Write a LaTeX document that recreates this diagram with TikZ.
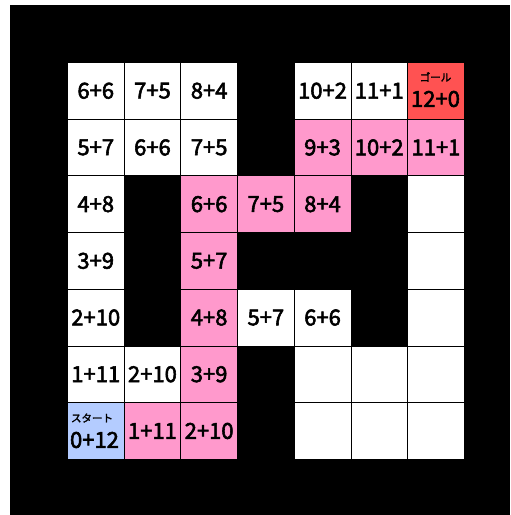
\documentclass[tikz,border=0pt]{standalone}
\usepackage{fontspec}
\setmainfont{Noto Sans CJK JP}
\newfontfamily\cellfont{Noto Sans CJK JP}[FakeBold=2.5]
\definecolor{pinkc}{HTML}{FF99CC}
\definecolor{goalc}{HTML}{FF5252}
\definecolor{startc}{HTML}{B4CCFF}
\begin{document}
\begin{tikzpicture}[x=1pt,y=-1pt,
  cell/.style={draw=black, line width=0.8pt, minimum size=56.7pt, inner sep=0pt, anchor=north west, font=\cellfont\fontsize{22}{24}\selectfont},
  lbl/.style={inner sep=0pt, font=\cellfont\fontsize{10.5}{12}\selectfont},
  num/.style={inner sep=0pt, font=\cellfont\fontsize{22}{24}\selectfont}]
\useasboundingbox (0,0) rectangle (511,515);
\fill[white] (0,0) rectangle (511,515);
\fill[black] (10,5) rectangle (510,515);
\foreach \r/\c/\col/\t in {
  0/0/white/6+6, 0/1/white/7+5, 0/2/white/8+4, 0/4/white/10+2, 0/5/white/11+1,
  1/0/white/5+7, 1/1/white/6+6, 1/2/white/7+5, 1/4/pinkc/9+3, 1/5/pinkc/10+2, 1/6/pinkc/11+1,
  2/0/white/4+8, 2/2/pinkc/6+6, 2/3/pinkc/7+5, 2/4/pinkc/8+4, 2/6/white/{},
  3/0/white/3+9, 3/2/pinkc/5+7, 3/6/white/{},
  4/0/white/2+10, 4/2/pinkc/4+8, 4/3/white/5+7, 4/4/white/6+6, 4/6/white/{},
  5/0/white/1+11, 5/1/white/2+10, 5/2/pinkc/3+9, 5/4/white/{}, 5/5/white/{}, 5/6/white/{},
  6/1/pinkc/1+11, 6/2/pinkc/2+10, 6/4/white/{}, 6/5/white/{}, 6/6/white/{}}
  \node[cell, fill=\col] (cell-\r-\c) at ({67+\c*56.7},{62+\r*56.7}) {\t};
\node[cell, fill=goalc] (goal) at ({67+6*56.7},62) {};
\node[lbl] (goallbl) at (435.5,77) {ゴール};
\node[num] (goalnum) at (435.5,99) {12+0};
\node[cell, fill=startc] (start) at (67,{62+6*56.7}) {};
\node[lbl] (startlbl) at (92,418) {スタート};
\node[num] (startnum) at (94.5,440) {0+12};
\end{tikzpicture}
\end{document}
